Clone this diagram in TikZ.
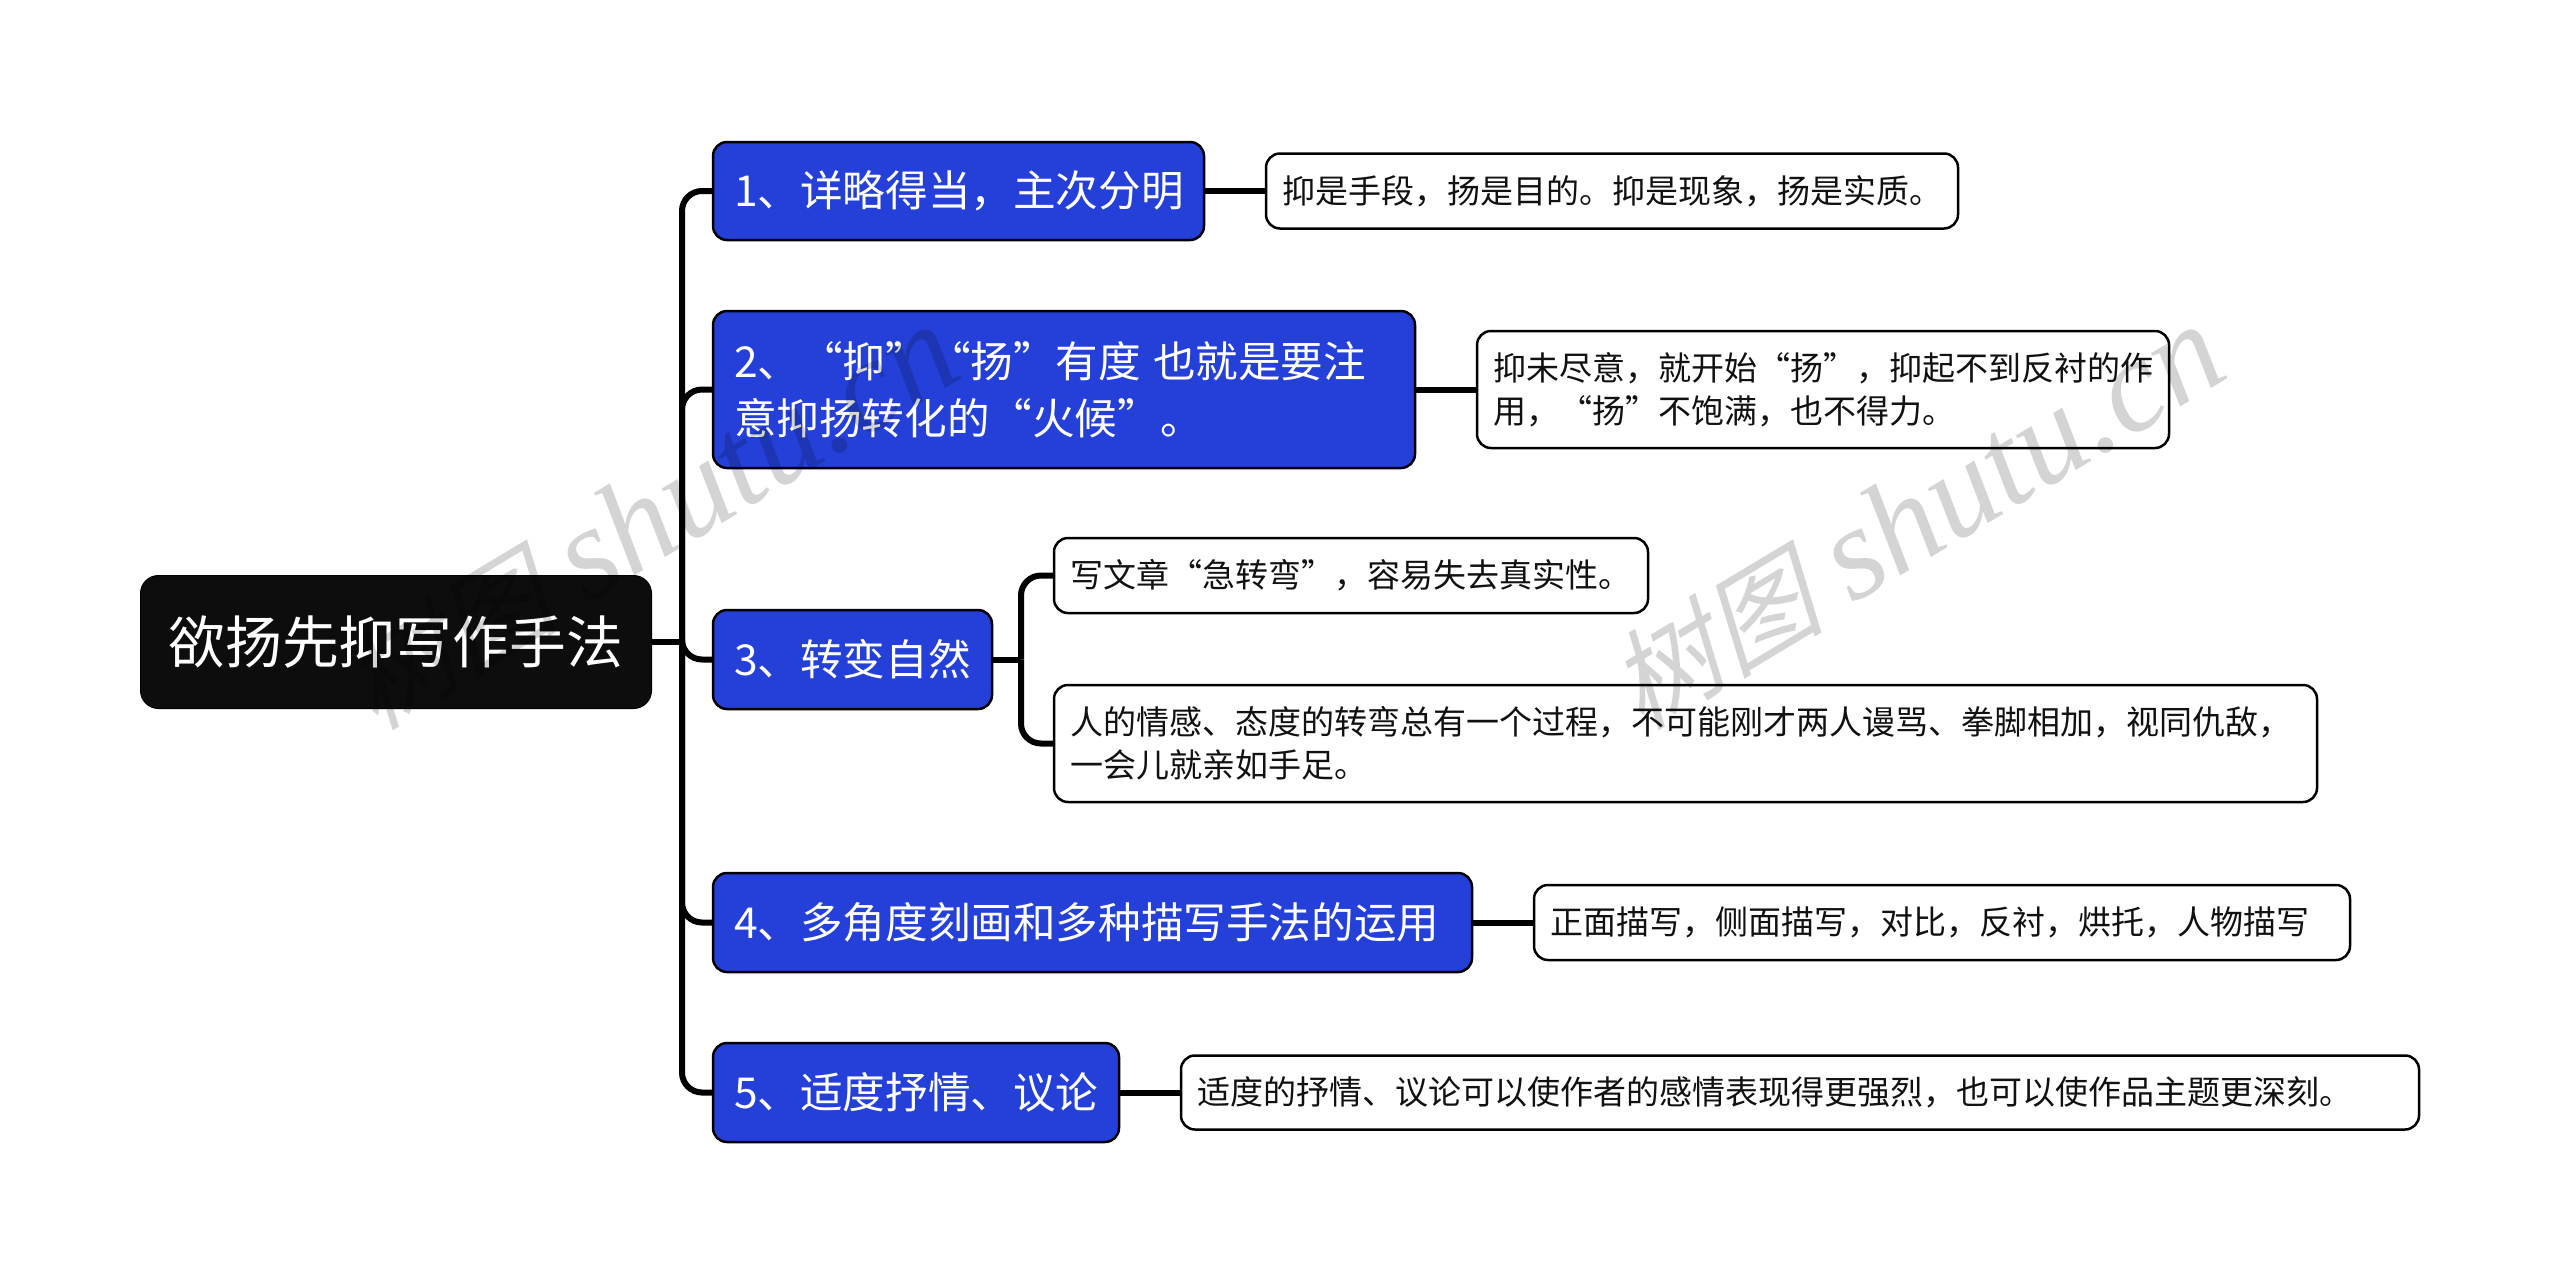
\documentclass[tikz,border=0pt]{standalone}
\usepackage{fontspec}
\setmainfont{Noto Sans CJK SC}
\newfontfamily\wmcjk[FakeSlant=0.25]{Noto Sans CJK SC}
\newfontfamily\wmlat{Liberation Serif Italic}
\newcommand{\wmtext}{{\wmcjk\fontsize{108}{110}\selectfont 树图}\hspace{30pt}{\wmlat\fontsize{132}{132}\selectfont shutu.cn}}
\tikzset{
  x=1pt,y=-1pt,
  base/.style={anchor=north west,rounded corners=14pt,align=left,inner ysep=0pt,inner xsep=17pt,outer sep=0pt},
  rootbox/.style={base,fill=rootblack,draw=black,line width=1pt,text=white,rounded corners=18pt,inner xsep=28pt,
     font=\fontsize{56.8}{60}\selectfont},
  branch/.style={base,fill=nodeblue,draw=black,line width=2.5pt,text=white,inner xsep=21pt,
     font=\fontsize{42.6}{57}\selectfont},
  leaf/.style={base,fill=white,draw=black,line width=2.5pt,text=leafblack,inner xsep=16pt,
     font=\fontsize{33}{43}\selectfont},
  conn/.style={draw=black,line width=6pt,rounded corners=20pt},
  wm/.style={text=black,opacity=0.17,rotate=31},
}
\definecolor{nodeblue}{HTML}{2440D8}
\definecolor{rootblack}{HTML}{0D0D0D}
\definecolor{leafblack}{HTML}{111111}
\begin{document}
\begin{tikzpicture}
\useasboundingbox (0,0) rectangle (2560,1283);
\fill[white] (0,0) rectangle (2560,1283);
\coordinate (sp) at (682,642);
\coordinate (spb) at (1021,659.5);
\node[rootbox,minimum width=511pt,minimum height=133pt,text width=455pt] (root) at (140.5,575.5) {欲扬先抑写作手法};
\node[branch,minimum width=491pt,minimum height=98pt,text width=449pt] (b1) at (713,142) {1、详略得当，主次分明};
\node[branch,minimum width=702pt,minimum height=157pt,text width=660pt] (b2) at (713,311) {2、“抑”“扬”有度\hspace{12pt}也就是要注\\意抑扬转化的“火候”。};
\node[branch,minimum width=279pt,minimum height=99pt,text width=237pt] (b3) at (713,610) {3、转变自然};
\node[branch,minimum width=759pt,minimum height=99pt,text width=717pt] (b4) at (713,873) {4、多角度刻画和多种描写手法的运用};
\node[branch,minimum width=406pt,minimum height=99pt,text width=364pt] (b5) at (713,1043) {5、适度抒情、议论};
\node[leaf,minimum width=692pt,minimum height=75pt,text width=660pt] (l1) at (1266,153.5) {抑是手段，扬是目的。抑是现象，扬是实质。};
\node[leaf,minimum width=692pt,minimum height=117pt,text width=660pt] (l2) at (1477,331) {抑未尽意，就开始“扬”，抑起不到反衬的作\\用，“扬”不饱满，也不得力。};
\node[leaf,minimum width=594pt,minimum height=75pt,text width=562pt] (l3a) at (1054,538) {写文章“急转弯”，容易失去真实性。};
\node[leaf,minimum width=1263pt,minimum height=117pt,text width=1231pt] (l3b) at (1054,685) {人的情感、态度的转弯总有一个过程，不可能刚才两人谩骂、拳脚相加，视同仇敌，\\一会儿就亲如手足。};
\node[leaf,minimum width=816pt,minimum height=75pt,text width=784pt] (l4) at (1534,885) {正面描写，侧面描写，对比，反衬，烘托，人物描写};
\node[leaf,minimum width=1238pt,minimum height=74pt,text width=1206pt] (l5) at (1181,1055.5) {适度的抒情、议论可以使作者的感情表现得更强烈，也可以使作品主题更深刻。};
\draw[conn] (root.east) -- (sp);
\draw[conn] (sp) |- (b1.west);
\draw[conn] (sp) |- (b2.west);
\draw[conn] (sp) |- (b3.west);
\draw[conn] (sp) |- (b4.west);
\draw[conn] (sp) |- (b5.west);
\draw[conn] (b1.east) -- (l1.west);
\draw[conn] (b2.east) -- (l2.west);
\draw[conn] (b3.east) -- (spb);
\draw[conn] (spb) |- (l3a.west);
\draw[conn] (spb) |- (l3b.west);
\draw[conn] (b4.east) -- (l4.west);
\draw[conn] (b5.east) -- (l5.west);
\node[wm] (wm1) at (650,518) {\wmtext};
\node[wm] (wm2) at (1916,518) {\wmtext};
\end{tikzpicture}
\end{document}
